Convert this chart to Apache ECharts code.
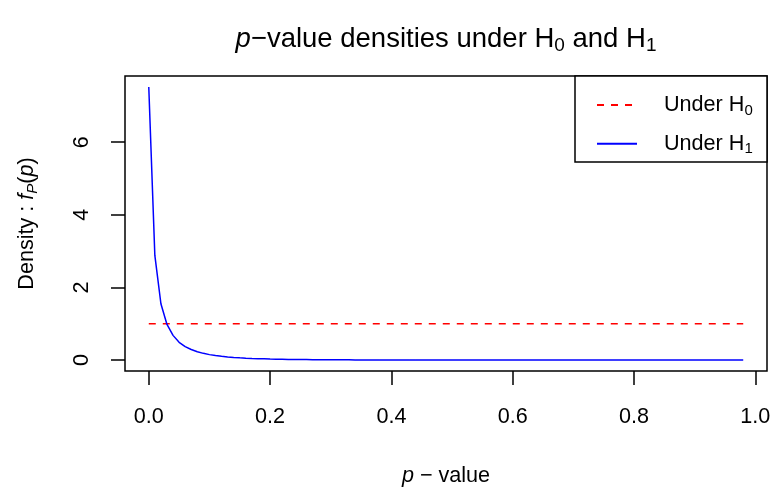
<!DOCTYPE html>
<html><head><meta charset="utf-8">
<script src="https://cdn.jsdelivr.net/npm/echarts@6/dist/echarts.min.js"></script>
<style>html,body{margin:0;padding:0;background:#fff}#c{width:775px;height:492px}</style>
</head><body><div id="c"></div>
<script>
// ---- data ----
const pValues = [
  0.00,0.01,0.02,0.03,0.04,0.05,0.06,0.07,0.08,0.09,
  0.10,0.11,0.12,0.13,0.14,0.15,0.16,0.17,0.18,0.19,
  0.20,0.21,0.22,0.23,0.24,0.25,0.26,0.27,0.28,0.29,
  0.30,0.31,0.32,0.33,0.34,0.35,0.36,0.37,0.38,0.39,
  0.40,0.41,0.42,0.43,0.44,0.45,0.46,0.47,0.48,0.49,
  0.50,0.51,0.52,0.53,0.54,0.55,0.56,0.57,0.58,0.59,
  0.60,0.61,0.62,0.63,0.64,0.65,0.66,0.67,0.68,0.69,
  0.70,0.71,0.72,0.73,0.74,0.75,0.76,0.77,0.78,0.79,
  0.80,0.81,0.82,0.83,0.84,0.85,0.86,0.87,0.88,0.89,
  0.90,0.91,0.92,0.93,0.94,0.95,0.96,0.97,0.98
];
const densityH1 = [
  7.52,2.88,1.55,0.98,0.68,0.49,0.37,0.29,0.23,0.185,
  0.15,0.125,0.104,0.087,0.073,0.062,0.053,0.045,0.039,0.034,
  0.029,0.025,0.022,0.019,0.017,0.015,0.013,0.011,0.010,0.009,
  0.008,0.007,0.006,0.0055,0.005,0.0045,0.004,0.0035,0.003,0.0028,
  0.0025,0.0022,0.002,0.0018,0.0016,0.0014,0.0013,0.0011,0.001,0.0009,
  0.0008,0.0007,0.0007,0.0006,0.0006,0.0005,0.0005,0.0004,0.0004,0.0004,
  0.0003,0.0003,0.0003,0.0002,0.0002,0.0002,0.0002,0.0002,0.0001,0.0001,
  0.0001,0.0001,0.0001,0.0001,0.0001,0.0001,0.0001,0.0001,0.0001,0,
  0,0,0,0,0,0,0,0,0,0,
  0,0,0,0,0,0,0,0,0
];
const pValuesH0 = [0, 0.98];
const densityH0 = [1, 1];
const xTicks = [0, 0.2, 0.4, 0.6, 0.8, 1.0];
const yTicks = [0, 2, 4, 6];
const seriesNames = ['Under H0', 'Under H1'];

// ---- chart ----
const FONT = '"Liberation Sans", Arial, Helvetica, sans-serif';
const FS = 21.6;
const zip = (xs, ys) => xs.map((x, i) => [x, ys[i]]);
const xMin = -0.0392, xMax = 1.0192;
const yMin = -0.3008, yMax = 7.8208;

const chart = echarts.init(document.getElementById('c'), null, {renderer: 'canvas'});
const subRich = (size) => ({fontSize: size, fontFamily: FONT, color: '#000', verticalAlign: 'bottom', lineHeight: size * 0.95});

chart.setOption({
  animation: false,
  backgroundColor: '#fff',
  grid: {left: 125, right: 8, top: 76, bottom: 119.5, show: true, borderColor: '#000', borderWidth: 1.5, backgroundColor: 'transparent'},
  xAxis: {
    type: 'value', min: xMin, max: xMax,
    name: '{i|p}{r| − value}', nameLocation: 'middle', nameGap: 92,
    nameTextStyle: {rich: {
      i: {fontSize: FS, fontFamily: FONT, fontStyle: 'italic', color: '#000', lineHeight: 26},
      r: {fontSize: FS, fontFamily: FONT, color: '#000', lineHeight: 26}
    }},
    axisLine: {show: false, onZero: false},
    splitLine: {show: false},
    axisTick: {show: true, customValues: xTicks, length: 14, lineStyle: {color: '#000', width: 1.5}},
    axisLabel: {customValues: xTicks, formatter: v => v.toFixed(1), margin: 35, fontSize: FS, fontFamily: FONT, color: '#000'}
  },
  yAxis: {
    type: 'value', min: yMin, max: yMax,
    name: '{r|Density : }{i|f}{si|P}{r|(}{i|p}{r|)}', nameLocation: 'middle', nameGap: 85, nameRotate: 90,
    nameTextStyle: {rich: {
      i: {fontSize: FS, fontFamily: FONT, fontStyle: 'italic', color: '#000', lineHeight: 26},
      r: {fontSize: FS, fontFamily: FONT, color: '#000', lineHeight: 26},
      si: Object.assign(subRich(15), {fontStyle: 'italic'})
    }},
    axisLine: {show: false, onZero: false},
    splitLine: {show: false},
    axisTick: {show: true, customValues: yTicks, length: 14, lineStyle: {color: '#000', width: 1.5}},
    axisLabel: {customValues: yTicks, rotate: 90, margin: 32, fontSize: FS, fontFamily: FONT, color: '#000'}
  },
  legend: {
    orient: 'vertical', left: 596, top: 94, padding: 0,
    itemWidth: 40, itemHeight: 26, itemGap: 14.8,
    itemStyle: {opacity: 0},
    data: seriesNames,
    formatter: name => '{r|' + name.slice(0, -1) + '}{s|' + name.slice(-1) + '}',
    textStyle: {rich: {
      r: {fontSize: FS, fontFamily: FONT, color: '#000', padding: [0, 0, 0, 22], lineHeight: 26},
      s: subRich(15)
    }}
  },
  graphic: [
    {type: 'rect', z: 3, shape: {x: 575, y: 76, width: 192, height: 86}, style: {fill: '#fff', stroke: '#000', lineWidth: 1.5}},
    {type: 'text', x: 446, y: 39, style: {
      text: '{i|p}{r|−value densities under H}{s|0}{r| and H}{s|1}',
      align: 'center', verticalAlign: 'middle',
      rich: {
        i: {fontSize: 27.5, fontFamily: FONT, fontStyle: 'italic', fill: '#000', lineHeight: 32},
        r: {fontSize: 27.5, fontFamily: FONT, fill: '#000', lineHeight: 32},
        s: {fontSize: 19, fontFamily: FONT, fill: '#000', verticalAlign: 'bottom', lineHeight: 19}
      }
    }}
  ],
  series: [
    {name: seriesNames[0], type: 'line', data: zip(pValuesH0, densityH0), symbol: 'none', z: 2,
     lineStyle: {color: '#FF0000', width: 1.5, type: [7, 7]}, itemStyle: {color: '#FF0000'}},
    {name: seriesNames[1], type: 'line', data: zip(pValues, densityH1), symbol: 'none', z: 2,
     lineStyle: {color: '#0000FF', width: 1.5}, itemStyle: {color: '#0000FF'}}
  ]
});
</script>
</body></html>
